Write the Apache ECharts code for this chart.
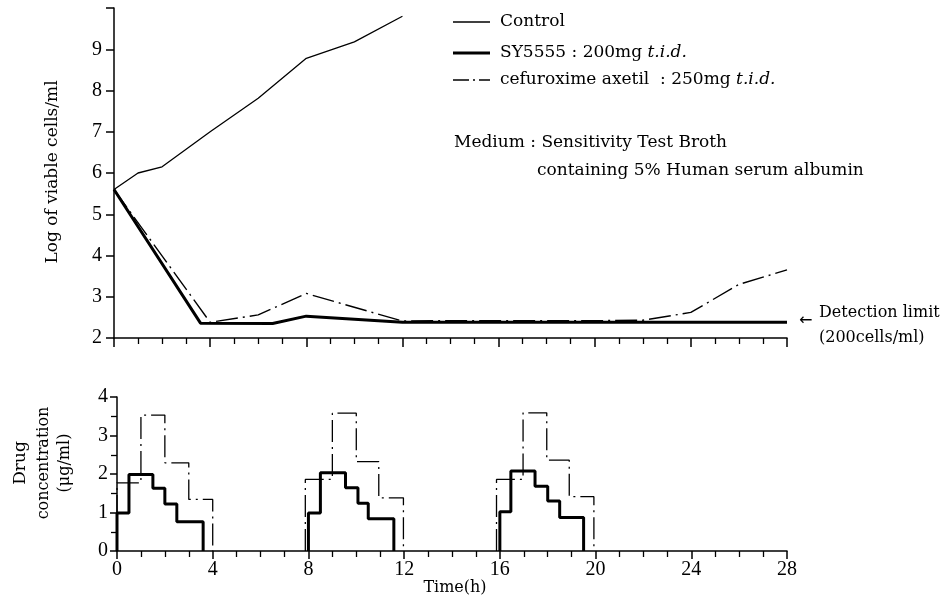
<!DOCTYPE html>
<html>
<head>
<meta charset="utf-8">
<script src="https://cdn.jsdelivr.net/npm/echarts@6/dist/echarts.min.js"></script>
<style>
html,body{margin:0;padding:0;background:#fff;}
#chart{width:951px;height:604px;}
</style>
</head>
<body>
<div id="chart"></div>
<script>
// ---- Top panel: log of viable cells/ml vs time (h) ----
const controlT = [0, 1, 2, 4, 6, 8, 10, 12];
const controlV = [5.6, 6.0, 6.15, 7.0, 7.81, 8.78, 9.18, 9.8];
const syT = [0, 3.6, 6.6, 8, 12, 28];
const syV = [5.6, 2.36, 2.35, 2.53, 2.38, 2.38];
const cefT = [0, 4, 6, 8, 12, 14, 16, 18, 20, 22, 24, 26, 28];
const cefV = [5.6, 2.38, 2.56, 3.08, 2.41, 2.42, 2.42, 2.42, 2.42, 2.43, 2.62, 3.3, 3.65];

// ---- Bottom panel: drug concentration steps (level i holds from T[i] to T[i+1]) ----
const syDoseT = [
  [0, 0.5, 1.5, 2.0, 2.5, 3.6],
  [8.0, 8.5, 9.55, 10.07, 10.5, 11.57],
  [16.0, 16.46, 17.47, 18.0, 18.5, 19.5]
];
const syDoseC = [
  [0.99, 1.99, 1.63, 1.22, 0.76, 0],
  [0.99, 2.03, 1.64, 1.24, 0.84, 0],
  [1.02, 2.08, 1.68, 1.30, 0.87, 0]
];
const cefDoseT = [
  [0, 1.0, 2.0, 3.0, 4.0],
  [7.87, 9.0, 10.0, 10.94, 11.97],
  [15.86, 16.97, 17.96, 18.9, 19.93]
];
const cefDoseC = [
  [1.77, 3.53, 2.29, 1.34, 0],
  [1.86, 3.58, 2.32, 1.38, 0],
  [1.86, 3.59, 2.36, 1.41, 0]
];

const topYTicks = [2, 3, 4, 5, 6, 7, 8, 9];
const bottomYTicks = [0, 1, 2, 3, 4];
const xTickLabels = [0, 4, 8, 12, 16, 20, 24, 28];

const SERIF = '"DejaVu Serif", "Liberation Serif", serif';
const NUMF = '"Liberation Serif", "DejaVu Serif", serif';
const DASHDOT = [22, 5, 2, 5];

function pairs(t, v) { return t.map((x, i) => [x, v[i]]); }
function stepData(t, c) {
  const d = [[t[0], 0]];
  for (let i = 0; i < t.length; i++) d.push([t[i], c[i]]);
  return d;
}

const series = [
  { name: 'Control', type: 'line', xAxisIndex: 0, yAxisIndex: 0, data: pairs(controlT, controlV),
    symbol: 'none', lineStyle: { color: '#000', width: 1.3 }, z: 3 },
  { name: 'SY5555', type: 'line', xAxisIndex: 0, yAxisIndex: 0, data: pairs(syT, syV),
    symbol: 'none', lineStyle: { color: '#000', width: 3 }, z: 3 },
  { name: 'cefuroxime axetil', type: 'line', xAxisIndex: 0, yAxisIndex: 0, data: pairs(cefT, cefV),
    symbol: 'none', lineStyle: { color: '#000', width: 1.4, type: DASHDOT }, z: 3 }
];
for (let k = 0; k < syDoseT.length; k++) {
  series.push({ type: 'line', xAxisIndex: 1, yAxisIndex: 1, step: 'end', data: stepData(syDoseT[k], syDoseC[k]),
    symbol: 'none', lineStyle: { color: '#000', width: 3 }, z: 3 });
  series.push({ type: 'line', xAxisIndex: 1, yAxisIndex: 1, step: 'end', data: stepData(cefDoseT[k], cefDoseC[k]),
    symbol: 'none', lineStyle: { color: '#000', width: 1.3, type: DASHDOT }, z: 3 });
}

const axisLineStyle = { color: '#000', width: 1.5 };

const option = {
  animation: false,
  backgroundColor: '#fff',
  grid: [
    { left: 114, right: 164, top: 8, height: 330 },
    { left: 117, right: 164, top: 397, height: 154 }
  ],
  xAxis: [
    { type: 'value', gridIndex: 0, min: 0, max: 28, interval: 4,
      axisLine: { show: true, lineStyle: axisLineStyle },
      axisTick: { show: true, length: 9, lineStyle: axisLineStyle },
      minorTick: { show: true, splitNumber: 4, length: 6, lineStyle: { color: '#000', width: 1.3 } },
      axisLabel: { show: false }, splitLine: { show: false } },
    { type: 'value', gridIndex: 1, min: 0, max: 28, interval: 4,
      axisLine: { show: true, lineStyle: axisLineStyle },
      axisTick: { show: true, length: 8, lineStyle: axisLineStyle },
      minorTick: { show: true, splitNumber: 4, length: 6, lineStyle: { color: '#000', width: 1.3 } },
      axisLabel: { show: true, margin: 9, color: '#000', fontFamily: NUMF, fontSize: 20,
        formatter: v => xTickLabels.indexOf(v) >= 0 ? String(v) : '' },
      splitLine: { show: false } }
  ],
  yAxis: [
    { type: 'value', gridIndex: 0, min: 2, max: 10, interval: 1,
      axisLine: { show: true, lineStyle: axisLineStyle },
      axisTick: { show: true, length: 8, lineStyle: axisLineStyle },
      axisLabel: { show: true, margin: 12, color: '#000', fontFamily: NUMF, fontSize: 20,
        formatter: v => topYTicks.indexOf(v) >= 0 ? String(v) : '' },
      splitLine: { show: false } },
    { type: 'value', gridIndex: 1, min: 0, max: 4, interval: 1,
      axisLine: { show: true, lineStyle: axisLineStyle },
      axisTick: { show: true, length: 7, lineStyle: axisLineStyle },
      minorTick: { show: true, splitNumber: 2, length: 6, lineStyle: { color: '#000', width: 1.3 } },
      axisLabel: { show: true, margin: 9, color: '#000', fontFamily: NUMF, fontSize: 20,
        formatter: v => bottomYTicks.indexOf(v) >= 0 ? String(v) : '' },
      splitLine: { show: false } }
  ],
  series: series,
  graphic: [
    // legend
    { type: 'line', shape: { x1: 453, y1: 22, x2: 490, y2: 22 }, style: { stroke: '#000', lineWidth: 1.3 } },
    { type: 'text', x: 500, y: 22, style: { text: 'Control', font: '17px ' + SERIF, fill: '#000', verticalAlign: 'middle' } },
    { type: 'line', shape: { x1: 453, y1: 53, x2: 490, y2: 53 }, style: { stroke: '#000', lineWidth: 3 } },
    { type: 'text', x: 500, y: 53, style: { text: 'SY5555 : 200mg {i|t.i.d.}', font: '17px ' + SERIF, fill: '#000', verticalAlign: 'middle',
        rich: { i: { fontStyle: 'italic', fontFamily: SERIF, fontSize: 17, fill: '#000' } } } },
    { type: 'line', shape: { x1: 453, y1: 80, x2: 490, y2: 80 }, style: { stroke: '#000', lineWidth: 1.3, lineDash: [16, 4, 2, 4] } },
    { type: 'text', x: 500, y: 80, style: { text: 'cefuroxime axetil  : 250mg {i|t.i.d.}', font: '17px ' + SERIF, fill: '#000', verticalAlign: 'middle',
        rich: { i: { fontStyle: 'italic', fontFamily: SERIF, fontSize: 17, fill: '#000' } } } },
    // medium note
    { type: 'text', x: 454, y: 143, style: { text: 'Medium : Sensitivity Test Broth', font: '17px ' + SERIF, fill: '#000', verticalAlign: 'middle' } },
    { type: 'text', x: 537, y: 171, style: { text: 'containing 5% Human serum albumin', font: '17px ' + SERIF, fill: '#000', verticalAlign: 'middle' } },
    // detection limit
    { type: 'text', x: 799, y: 321, style: { text: '←', font: '16px "DejaVu Sans", sans-serif', fill: '#000', verticalAlign: 'middle' } },
    { type: 'text', x: 819, y: 313, style: { text: 'Detection limit', font: '16px ' + SERIF, fill: '#000', verticalAlign: 'middle' } },
    { type: 'text', x: 819, y: 338, style: { text: '(200cells/ml)', font: '16px ' + SERIF, fill: '#000', verticalAlign: 'middle' } },
    // axis names
    { type: 'text', x: 53, y: 172, rotation: Math.PI / 2, style: { text: 'Log of viable cells/ml', font: '17px ' + SERIF, fill: '#000', align: 'center', verticalAlign: 'middle' } },
    { type: 'text', x: 21, y: 463, rotation: Math.PI / 2, style: { text: 'Drug', font: '17px ' + SERIF, fill: '#000', align: 'center', verticalAlign: 'middle' } },
    { type: 'text', x: 44, y: 463, rotation: Math.PI / 2, style: { text: 'concentration', font: '16px ' + SERIF, fill: '#000', align: 'center', verticalAlign: 'middle' } },
    { type: 'text', x: 65, y: 463, rotation: Math.PI / 2, style: { text: '(μg/ml)', font: '16px ' + SERIF, fill: '#000', align: 'center', verticalAlign: 'middle' } },
    { type: 'text', x: 455, y: 588, style: { text: 'Time(h)', font: '16px ' + SERIF, fill: '#000', align: 'center', verticalAlign: 'middle' } }
  ]
};

const chart = echarts.init(document.getElementById('chart'), null, { renderer: 'canvas' });
chart.setOption(option);
</script>
</body>
</html>
